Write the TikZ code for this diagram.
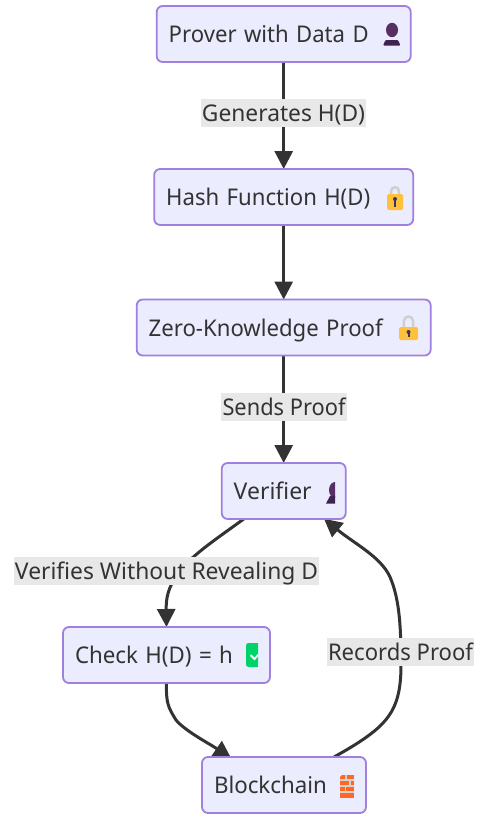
\documentclass[tikz,border=0pt]{standalone}
\usepackage{fontspec}
\usepackage{graphicx}
\setmainfont{Noto Sans}
\usetikzlibrary{arrows.meta,calc}
\definecolor{inkc}{HTML}{333333}
\definecolor{boxfill}{HTML}{ECECFF}
\definecolor{boxline}{HTML}{9F80DF}
\definecolor{labelbg}{HTML}{E8E8E8}
\definecolor{lockc}{HTML}{FFC03A}
\definecolor{shacklec}{HTML}{CFCFCF}
\definecolor{keyc}{HTML}{3B3560}
\definecolor{personc}{HTML}{563063}
\definecolor{persond}{HTML}{3F2350}
\definecolor{checkc}{HTML}{00D26A}
\definecolor{brickc}{HTML}{FF6723}
\definecolor{mortarc}{HTML}{D3D3D3}
\pgfdeclarelayer{paper}
\pgfdeclarelayer{lines}
\pgfsetlayers{paper,lines,main}
\newcommand{\fitw}[2]{\resizebox{#1pt}{\height}{#2}}
\tikzset{
  x=1pt,y=-1pt,
  box/.style={draw=boxline,fill=boxfill,line width=1.8pt,rounded corners=6pt,
    minimum height=56pt,outer sep=0pt,inner xsep=12pt,inner ysep=0pt,align=left,
    text=inkc,font=\fontsize{23}{27}\selectfont,text height=22pt,text depth=4.6pt},
  edgelabel/.style={fill=labelbg,text=inkc,inner xsep=0pt,inner ysep=0pt,
    minimum height=28pt,outer sep=0pt,font=\fontsize{23}{27}\selectfont,
    text height=22pt,text depth=4.6pt},
  edge/.style={draw=inkc,line width=3pt,-{Triangle[length=18pt,width=18pt]}}
}
\newcommand{\lockicon}[5]{% left, top of shackle, right, body top, bottom
  \draw[shacklec,line width=2.5pt] ({#1+0.26*(#3-#1)},#4) -- ({#1+0.26*(#3-#1)},{#2+4}) arc[start angle=180,end angle=360,radius={0.24*(#3-#1)}] -- ({#1+0.74*(#3-#1)},#4);
  \fill[lockc,rounded corners=1.5pt] (#1,#4) rectangle (#3,#5);
  \fill[keyc] ({(#1+#3)/2},{#4+5}) circle[radius=2];
  \fill[keyc] ({(#1+#3)/2-1},{#4+5}) rectangle ({(#1+#3)/2+1},{#5-3});
}
\begin{document}
\begin{tikzpicture}
\begin{pgfonlayer}{paper}
\fill[white] (0,0) rectangle (499,819);
\end{pgfonlayer}
\useasboundingbox (0,0) rectangle (499,819);
\node[box,text width=230pt,minimum width=254pt] (prover) at (283.7,34) {\fitw{200}{Prover with Data D}};
\node[box,text width=235pt,minimum width=259pt] (hash) at (283.7,197) {\fitw{204}{Hash Function H(D)}};
\node[box,text width=270pt,minimum width=294pt] (zk) at (283.7,327.5) {\fitw{234}{Zero-Knowledge Proof}};
\node[box,text width=100pt,minimum width=124pt] (verifier) at (283.7,491) {\fitw{78}{Verifier}};
\node[box,text width=183pt,minimum width=207pt] (check) at (166.5,655) {\fitw{158}{Check H(D) = h}};
\node[box,text width=140pt,minimum width=164pt] (chain) at (284,785) {\fitw{113}{Blockchain}};

% icons
\begin{scope}
  \fill[personc] (392,30) ellipse[x radius=6,y radius=7.2];
  \fill[persond,rounded corners=1pt] (383,45.5) -- (385.5,40) -- (398,40) -- (400.5,45.5) -- cycle;
\end{scope}
\lockicon{387}{187}{403}{194}{210}
\lockicon{399}{317}{418}{327}{340}
\begin{scope}
  \clip (320,475) rectangle (335,510);
  \fill[personc] (335,490) ellipse[x radius=6,y radius=8];
  \fill[persond] (326,503.5) -- (330,496) -- (340,496) -- (340,503.5) -- cycle;
\end{scope}
\begin{scope}
  \clip (240,640) rectangle (258,670);
  \fill[checkc,rounded corners=2.5pt] (246,643) rectangle (266,667);
  \draw[white,line width=1.8pt] (250.5,655) -- (254.5,659) -- (259,654);
\end{scope}
\begin{scope}
  \fill[mortarc,rounded corners=1.5pt] (340,775) rectangle (354,798);
  \fill[brickc] (342,775) -- (345,775) -- (345,779) -- (340,779) -- (340,777) -- cycle;
  \fill[brickc] (346.5,775) rectangle (354,779);
  \fill[brickc] (340,781) rectangle (349,785);
  \fill[brickc] (350.5,781) rectangle (354,785);
  \fill[brickc] (340,787) rectangle (344.5,791);
  \fill[brickc] (346,787) rectangle (354,791);
  \fill[brickc] (340,793) rectangle (354,798);
\end{scope}

% connectors (under the boxes, which cover the ends of the slanted tips)
\begin{pgfonlayer}{lines}
\draw[edge] (prover) -- (hash);
\draw[edge] (hash) -- (zk);
\draw[edge] (zk) -- (verifier);
\draw[edge] ([xshift=22pt]verifier.south west) .. controls (215,540) and (190,556) .. (177,575)
   .. controls (168,588) and (166,598) .. (check.north);
\draw[edge] (check.south) .. controls (166,703) and (168,707) .. (176,720)
   .. controls (185,731) and (210,744) .. ([xshift=29.4pt,yshift=-1.7pt]chain.north west);
\draw[edge] ([xshift=132pt]chain.north west) .. controls (352,747) and (372,735) .. (383,723)
   .. controls (395,710) and (401,695) .. (401,665)
   .. controls (401,630) and (400,600) .. (390,577)
   .. controls (381,557) and (355,544) .. ([xshift=102.3pt,yshift=0.2pt]verifier.south west);
\end{pgfonlayer}

% labels
\node[edgelabel,minimum width=165pt] (l1) at (283.5,113) {\fitw{163}{Generates H(D)}};
\node[edgelabel,minimum width=126pt] (l2) at (284,407) {\fitw{123}{Sends Proof}};
\node[edgelabel,minimum width=305pt] (l3) at (166.5,570.5) {\fitw{303}{Verifies Without Revealing D}};
\node[edgelabel,minimum width=147pt] (l4) at (400.5,652) {\fitw{145}{Records Proof}};
\end{tikzpicture}
\end{document}
